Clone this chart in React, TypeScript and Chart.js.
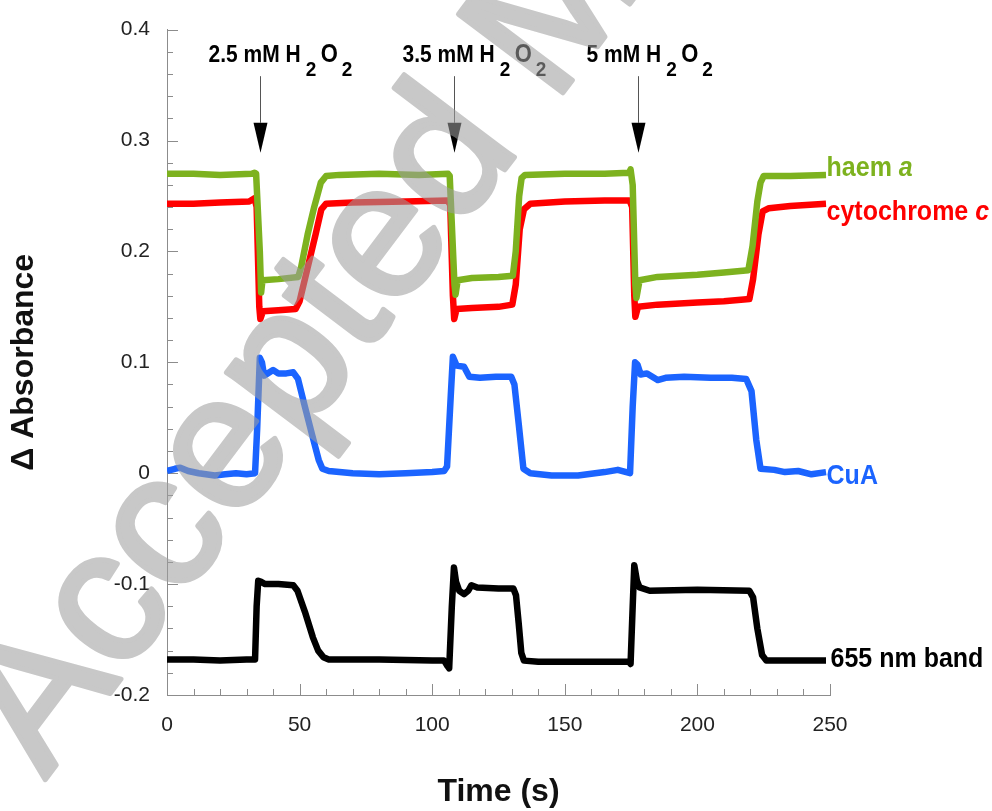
import React, { useEffect, useRef } from 'react';
import { Chart, registerables } from 'chart.js';
Chart.register(...registerables);

const FF = "'Liberation Sans', Arial, Helvetica, sans-serif";

// ---- data (time in s, Δ absorbance) ----
const haemT = [0, 10, 20, 32, 33.0, 33.6, 35.0, 35.5, 36.0, 42, 49.5, 50.5, 53, 55.5, 58, 60, 65, 80, 95, 106.0, 106.6, 108.4, 108.8, 109.6, 115, 125, 130.4, 131.5, 132.8, 133.7, 135, 150, 165, 174.3, 174.8, 175.6, 176.6, 177.0, 178.2, 185, 200, 210, 219.2, 220.8, 222.6, 223.8, 225, 235, 248.5];
const haemV = [0.270, 0.270, 0.269, 0.270, 0.271, 0.270, 0.200, 0.163, 0.174, 0.175, 0.177, 0.185, 0.215, 0.240, 0.262, 0.268, 0.269, 0.270, 0.269, 0.270, 0.268, 0.170, 0.161, 0.174, 0.176, 0.177, 0.178, 0.200, 0.250, 0.266, 0.269, 0.270, 0.270, 0.271, 0.274, 0.260, 0.170, 0.158, 0.174, 0.177, 0.179, 0.181, 0.183, 0.205, 0.245, 0.262, 0.268, 0.268, 0.269];

const cytT = [0, 10, 20, 31, 33.0, 33.8, 34.8, 35.2, 36.2, 42, 48.5, 50, 53, 56, 58.2, 60, 70, 90, 105.8, 106.8, 107.8, 108.3, 109.2, 115, 125, 130.2, 131.5, 133, 134.6, 137, 150, 165, 174.4, 175.4, 176.2, 176.6, 177.6, 185, 200, 210, 219.6, 221, 223, 224.6, 227, 235, 248.5];
const cytV = [0.243, 0.243, 0.244, 0.245, 0.248, 0.240, 0.150, 0.139, 0.146, 0.147, 0.148, 0.155, 0.185, 0.215, 0.238, 0.243, 0.244, 0.245, 0.246, 0.242, 0.160, 0.139, 0.148, 0.149, 0.150, 0.152, 0.170, 0.220, 0.238, 0.243, 0.245, 0.246, 0.246, 0.240, 0.160, 0.141, 0.150, 0.152, 0.154, 0.155, 0.157, 0.175, 0.215, 0.236, 0.239, 0.241, 0.243];

const cuaT = [0, 3, 5, 8, 12, 18, 22, 26, 30, 33.2, 34.0, 35.0, 35.8, 36.6, 38, 40, 42, 45, 47.6, 49.4, 52, 55, 57.2, 58.6, 61, 65, 70, 80, 90, 100, 104.5, 105.6, 107, 107.8, 109.2, 112, 114, 118, 124, 129.8, 131.0, 132.6, 134.4, 137, 145, 155, 165, 170, 174.6, 175.6, 176.5, 177.4, 178.6, 181, 185, 188, 195, 205, 213, 218.4, 220.4, 222.2, 223.8, 229, 233, 238, 243, 248.5];
const cuaV = [0.002, 0.004, 0.005, 0.002, 0.000, -0.002, -0.001, 0.000, -0.001, 0.000, 0.040, 0.104, 0.100, 0.088, 0.090, 0.093, 0.090, 0.090, 0.091, 0.085, 0.060, 0.032, 0.012, 0.004, 0.002, 0.001, 0.000, -0.001, 0.000, 0.001, 0.002, 0.006, 0.070, 0.105, 0.097, 0.096, 0.087, 0.086, 0.087, 0.087, 0.080, 0.045, 0.004, 0.000, -0.002, -0.002, 0.001, 0.003, 0.000, 0.060, 0.100, 0.098, 0.089, 0.090, 0.084, 0.086, 0.087, 0.086, 0.086, 0.085, 0.074, 0.030, 0.004, 0.003, 0.001, 0.002, -0.001, 0.001];

const bandT = [0, 10, 20, 30, 33.2, 33.8, 34.4, 35.5, 37, 42, 47.6, 49.2, 52, 55, 57, 59, 61, 80, 100, 104.5, 105.8, 106.4, 107.4, 108.2, 109.0, 110.2, 112, 113.6, 114.8, 117, 125, 130.6, 131.6, 132.6, 133.6, 134.6, 140, 160, 174.2, 174.8, 175.6, 176.2, 177.2, 178.2, 182, 200, 219.6, 221, 222.6, 224.4, 226, 240, 248.5];
const bandV = [-0.168, -0.168, -0.169, -0.168, -0.168, -0.120, -0.097, -0.098, -0.100, -0.100, -0.101, -0.106, -0.125, -0.148, -0.160, -0.166, -0.168, -0.168, -0.169, -0.169, -0.174, -0.176, -0.120, -0.085, -0.098, -0.106, -0.109, -0.106, -0.101, -0.103, -0.104, -0.104, -0.110, -0.135, -0.162, -0.169, -0.170, -0.170, -0.170, -0.172, -0.120, -0.083, -0.097, -0.103, -0.106, -0.105, -0.106, -0.112, -0.140, -0.164, -0.169, -0.169, -0.169];

const seriesNames = ['haem ', 'cytochrome ', 'CuA', '655 nm band'];
const seriesItalic = ['a', 'c', '', ''];
const seriesColors = ['#7db21f', '#ff0000', '#1b64ff', '#000000'];
const labelX = [248.7, 248.7, 248.7, 250.2];
const labelY = [0.268, 0.2287, -0.0099, -0.1749];

const additionTimes = [35.2, 108.3, 177.7];
const additionConc = ['2.5', '3.5', '5'];

const watermarkText = 'Accepted Manuscript';

const xMin = 0, xMax = 250, xStep = 50, xMinor = 10;
const yMin = -0.2, yMax = 0.4, yStep = 0.1, yMinor = 0.02;

const AXIS = '#8c8c8c';

function pts(t: number[], v: number[]) {
  return t.map((x, i) => ({ x, y: v[i] }));
}

function sText(ctx: CanvasRenderingContext2D, text: string, x: number, y: number, sy: number) {
  ctx.save();
  ctx.translate(x, y);
  ctx.scale(1, sy);
  ctx.fillText(text, 0, 0);
  ctx.restore();
}

const decor = {
  id: 'decor',
  beforeDatasetsDraw(chart: any) {
    const { ctx, scales, chartArea: a } = chart;
    const xs = scales.x, ys = scales.y;
    ctx.save();
    ctx.strokeStyle = AXIS;
    ctx.lineWidth = 1;
    ctx.beginPath();
    const nx = Math.round((xMax - xMin) / xMinor);
    for (let i = 0; i <= nx; i++) {
      const v = xMin + i * xMinor;
      const px = Math.round(xs.getPixelForValue(v)) + 0.5;
      const len = Math.abs(v % xStep) < 1e-9 ? 11 : 6;
      ctx.moveTo(px, a.bottom);
      ctx.lineTo(px, a.bottom - len);
    }
    const ny = Math.round((yMax - yMin) / yMinor);
    for (let i = 0; i <= ny; i++) {
      const v = yMin + i * yMinor;
      const py = Math.round(ys.getPixelForValue(v)) + 0.5;
      const len = i % 5 === 0 ? 11 : 6;
      ctx.moveTo(a.left, py);
      ctx.lineTo(a.left + len, py);
    }
    ctx.stroke();
    ctx.restore();
  },
  afterDraw(chart: any) {
    const { ctx, scales } = chart;
    const xs = scales.x, ys = scales.y;
    ctx.save();
    // arrows + annotations
    const yTextBase = ys.getPixelForValue(0.371);
    const yLineTop = ys.getPixelForValue(0.358);
    const yHeadTop = ys.getPixelForValue(0.316);
    const yTip = ys.getPixelForValue(0.289);
    additionTimes.forEach((t, i) => {
      const px = Math.round(xs.getPixelForValue(t)) + 0.5;
      ctx.strokeStyle = '#555';
      ctx.lineWidth = 1;
      ctx.beginPath();
      ctx.moveTo(px, yLineTop);
      ctx.lineTo(px, yHeadTop);
      ctx.stroke();
      ctx.fillStyle = '#000';
      ctx.beginPath();
      ctx.moveTo(px - 7, yHeadTop);
      ctx.lineTo(px + 7, yHeadTop);
      ctx.lineTo(px, yTip);
      ctx.closePath();
      ctx.fill();

      const sx = px - 52;
      ctx.textBaseline = 'alphabetic';
      ctx.textAlign = 'left';
      ctx.font = `bold 21px ${FF}`;
      const main = `${additionConc[i]} mM H`;
      sText(ctx, main, sx, yTextBase, 1.18);
      const end = sx + ctx.measureText(main).width;
      ctx.font = `bold 19px ${FF}`;
      sText(ctx, '2', end + 5, yTextBase + 14, 1.1);
      ctx.font = `bold 22px ${FF}`;
      sText(ctx, 'O', end + 20, yTextBase, 1.15);
      ctx.font = `bold 19px ${FF}`;
      sText(ctx, '2', end + 41, yTextBase + 14, 1.1);
    });

    // series labels
    seriesNames.forEach((name, i) => {
      const px = xs.getPixelForValue(labelX[i]);
      const py = ys.getPixelForValue(labelY[i]);
      ctx.fillStyle = seriesColors[i];
      ctx.textAlign = 'left';
      ctx.textBaseline = 'alphabetic';
      ctx.font = `bold 25px ${FF}`;
      sText(ctx, name, px, py, 1.1);
      if (seriesItalic[i]) {
        const w = ctx.measureText(name).width;
        ctx.font = `italic bold 25px ${FF}`;
        sText(ctx, seriesItalic[i], px + w, py, 1.1);
      }
    });
    ctx.restore();

    // watermark (opaque on offscreen, composited with alpha)
    const off = document.createElement('canvas');
    off.width = chart.width;
    off.height = chart.height;
    const o = off.getContext('2d')!;
    o.translate(45, 780);
    o.rotate((-53 * Math.PI) / 180);
    o.fillStyle = '#9e9e9e';
    o.strokeStyle = '#9e9e9e';
    o.lineWidth = 5;
    o.lineJoin = 'round';
    o.font = `190px ${FF}`;
    o.textAlign = 'left';
    o.textBaseline = 'alphabetic';
    o.fillText(watermarkText, 0, 0);
    o.strokeText(watermarkText, 0, 0);
    ctx.save();
    ctx.globalAlpha = 0.57;
    ctx.drawImage(off, 0, 0);
    ctx.restore();
  },
};

export default function App() {
  const ref = useRef<HTMLCanvasElement>(null);
  useEffect(() => {
    Chart.defaults.font.family = FF;
    const mk = (label: string, t: number[], v: number[], color: string) => ({
      label,
      data: pts(t, v),
      borderColor: color,
      backgroundColor: color,
      borderWidth: 6.5,
      pointRadius: 0,
      tension: 0,
      fill: false,
      borderJoinStyle: 'round' as const,
    });
    const chart = new Chart(ref.current!, {
      type: 'line',
      data: {
        datasets: [
          mk('haem a', haemT, haemV, seriesColors[0]),
          mk('cytochrome c', cytT, cytV, seriesColors[1]),
          mk('CuA', cuaT, cuaV, seriesColors[2]),
          mk('655 nm band', bandT, bandV, seriesColors[3]),
        ],
      },
      options: {
        animation: false,
        responsive: false,
        layout: { padding: { top: 24, right: 162, left: 0, bottom: 0 } },
        plugins: { legend: { display: false }, tooltip: { enabled: false } },
        scales: {
          x: {
            type: 'linear',
            min: xMin,
            max: xMax,
            ticks: { stepSize: xStep, padding: 18, color: '#222', font: { size: 21 } },
            grid: { display: false, drawTicks: false },
            border: { display: true, color: AXIS, width: 1 },
            title: { display: true, text: 'Time (s)', color: '#111', font: { size: 32, weight: 'bold' }, padding: { top: 0, bottom: 0 } },
            afterFit: (s: any) => { s.height = 116; },
          },
          y: {
            min: yMin,
            max: yMax,
            ticks: {
              stepSize: yStep,
              padding: 17,
              color: '#222',
              font: { size: 21 },
              callback: (v: any) => String(Math.round(Number(v) * 10) / 10),
            },
            grid: { display: false, drawTicks: false },
            border: { display: true, color: AXIS, width: 1 },
            title: { display: true, text: 'Δ Absorbance', color: '#111', font: { size: 32, weight: 'bold' }, padding: { top: 5, bottom: 0 } },
            afterFit: (s: any) => { s.width = 167; },
          },
        },
      } as any,
      plugins: [decor],
    });
    return () => chart.destroy();
  }, []);
  return (
    <div style={{ position: 'fixed', left: 0, top: 0, width: 992, height: 811, background: '#fff' }}>
      <canvas ref={ref} width={992} height={811} style={{ width: 992, height: 811, display: 'block' }} />
    </div>
  );
}
